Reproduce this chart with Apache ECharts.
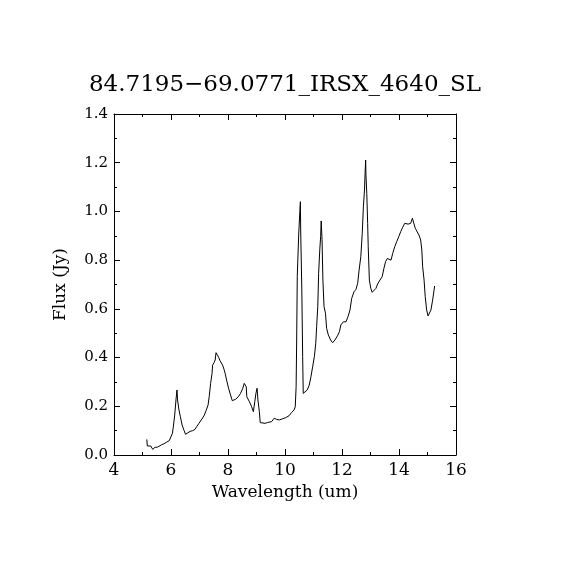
<!DOCTYPE html>
<html>
<head>
<meta charset="utf-8">
<script src="https://cdn.jsdelivr.net/npm/echarts@6/dist/echarts.min.js"></script>
<style>
  html, body { margin: 0; padding: 0; background: #fff; }
  #chart { width: 570px; height: 570px; }
</style>
</head>
<body>
<div id="chart"></div>
<script>
// spectrum
var wavelength = [
  5.15, 5.17, 5.23, 5.29, 5.36, 5.44, 5.52, 5.59, 5.67, 5.75,
  5.85, 5.94, 6.00, 6.05, 6.08, 6.13, 6.18, 6.21, 6.23, 6.28,
  6.33, 6.39, 6.46, 6.51, 6.58, 6.67, 6.76, 6.84, 6.90, 6.98,
  7.04, 7.11, 7.17, 7.23, 7.30, 7.34, 7.39, 7.44, 7.46, 7.51,
  7.55, 7.58, 7.63, 7.67, 7.72, 7.76, 7.81, 7.86, 7.90, 7.95,
  8.02, 8.09, 8.15, 8.19, 8.27, 8.36, 8.44, 8.52, 8.57, 8.62,
  8.64, 8.66, 8.69, 8.75, 8.83, 8.89, 8.94, 8.98, 9.02, 9.05,
  9.10, 9.13, 9.20, 9.30, 9.38, 9.45, 9.53, 9.62, 9.71, 9.80,
  9.90, 10.02, 10.14, 10.23, 10.32, 10.36, 10.39, 10.41, 10.43, 10.48,
  10.52, 10.54, 10.55, 10.59, 10.62, 10.64, 10.70, 10.78, 10.85, 10.91,
  10.97, 11.03, 11.08, 11.11, 11.15, 11.18, 11.22, 11.25, 11.27, 11.30,
  11.33, 11.37, 11.42, 11.46, 11.52, 11.60, 11.67, 11.75, 11.84, 11.91,
  11.96, 12.05, 12.14, 12.21, 12.28, 12.34, 12.42, 12.49, 12.55, 12.60,
  12.66, 12.71, 12.75, 12.79, 12.81, 12.83, 12.84, 12.87, 12.90, 12.92,
  12.96, 13.01, 13.06, 13.13, 13.19, 13.25, 13.33, 13.41, 13.47, 13.53,
  13.59, 13.66, 13.72, 13.78, 13.85, 13.92, 13.99, 14.06, 14.13, 14.20,
  14.27, 14.32, 14.36, 14.41, 14.47, 14.52, 14.57, 14.64, 14.70, 14.76,
  14.80, 14.83, 14.88, 14.92, 14.97, 15.02, 15.06, 15.12, 15.18, 15.25
];
var flux = [
  0.064, 0.037, 0.032, 0.037, 0.023, 0.032, 0.032, 0.040, 0.042, 0.046,
  0.053, 0.059, 0.067, 0.089, 0.114, 0.164, 0.233, 0.267, 0.226, 0.185,
  0.157, 0.123, 0.100, 0.085, 0.092, 0.097, 0.100, 0.105, 0.116, 0.130,
  0.138, 0.152, 0.164, 0.182, 0.205, 0.239, 0.294, 0.335, 0.369, 0.379,
  0.390, 0.420, 0.410, 0.401, 0.387, 0.379, 0.369, 0.352, 0.335, 0.308,
  0.274, 0.246, 0.223, 0.222, 0.229, 0.239, 0.253, 0.274, 0.294, 0.301,
  0.280, 0.239, 0.246, 0.219, 0.198, 0.178, 0.219, 0.253, 0.274, 0.226,
  0.178, 0.133, 0.130, 0.130, 0.133, 0.126, 0.137, 0.151, 0.146, 0.144,
  0.148, 0.153, 0.161, 0.174, 0.185, 0.198, 0.280, 0.472, 0.732, 0.903,
  0.999, 1.040, 0.924, 0.677, 0.404, 0.253, 0.253, 0.267, 0.287, 0.321,
  0.362, 0.404, 0.459, 0.527, 0.609, 0.746, 0.842, 0.896, 0.961, 0.883,
  0.718, 0.609, 0.582, 0.520, 0.493, 0.472, 0.461, 0.472, 0.489, 0.506,
  0.534, 0.547, 0.547, 0.568, 0.595, 0.643, 0.670, 0.680, 0.705, 0.759,
  0.814, 0.910, 1.019, 1.088, 1.156, 1.211, 1.149, 1.074, 0.951, 0.855,
  0.718, 0.684, 0.668, 0.668, 0.684, 0.702, 0.718, 0.732, 0.766, 0.794,
  0.807, 0.807, 0.800, 0.828, 0.855, 0.876, 0.896, 0.917, 0.935, 0.951,
  0.958, 0.948, 0.940, 0.951, 0.972, 0.965, 0.931, 0.924, 0.903, 0.883,
  0.842, 0.773, 0.718, 0.650, 0.595, 0.571, 0.571, 0.595, 0.636, 0.694
];
var titleText = '84.7195\u221269.0771_IRSX_4640_SL';
var xName = 'Wavelength (um)';
var yName = 'Flux (Jy)';

var FONT = 'DejaVu Serif';

var points = [];
for (var i = 0; i < wavelength.length; i++) {
    points.push([wavelength[i], flux[i]]);
}

// common axis look: black frame, ticks pointing inwards
function frameAxis(extra) {
    var ax = {
        type: 'value',
        axisLine: { show: true, onZero: false, lineStyle: { color: '#000', width: 1 } },
        axisTick: { show: true, inside: true, length: 6, lineStyle: { color: '#000', width: 1 } },
        minorTick: { show: true, splitNumber: 2, length: 3, lineStyle: { color: '#000', width: 1 } },
        splitLine: { show: false },
        minorSplitLine: { show: false }
    };
    for (var k in extra) ax[k] = extra[k];
    return ax;
}

var myChart = echarts.init(document.getElementById('chart'), null, { renderer: 'canvas' });

var option = {
    backgroundColor: '#fff',
    animation: false,
    title: {
        text: titleText,
        left: 'center',
        top: 69,
        textStyle: { fontFamily: FONT, fontSize: 23, fontWeight: 'normal', color: '#000' }
    },
    grid: { left: 114, right: 114, top: 114, bottom: 115 },
    xAxis: [
        frameAxis({
            position: 'bottom',
            min: 4, max: 16, interval: 2,
            name: xName,
            nameLocation: 'middle',
            nameGap: 28,
            nameTextStyle: { fontFamily: FONT, fontSize: 17, color: '#000' },
            axisLabel: { fontFamily: FONT, fontSize: 17, color: '#000', margin: 7 }
        }),
        frameAxis({
            position: 'top',
            min: 4, max: 16, interval: 2,
            axisLabel: { show: false }
        })
    ],
    yAxis: [
        frameAxis({
            position: 'left',
            min: 0, max: 1.4, interval: 0.2,
            name: yName,
            nameLocation: 'middle',
            nameGap: 45,
            nameTextStyle: { fontFamily: FONT, fontSize: 17, color: '#000' },
            axisLabel: {
                fontFamily: FONT, fontSize: 15, color: '#000', margin: 6,
                formatter: function (v) { return v.toFixed(1); }
            }
        }),
        frameAxis({
            position: 'right',
            min: 0, max: 1.4, interval: 0.2,
            axisLabel: { show: false }
        })
    ],
    series: [{
        type: 'line',
        xAxisIndex: 0,
        yAxisIndex: 0,
        data: points,
        showSymbol: false,
        symbol: 'none',
        lineStyle: { color: '#000', width: 1 },
        silent: true
    }]
};

myChart.setOption(option, true);
</script>
</body>
</html>
